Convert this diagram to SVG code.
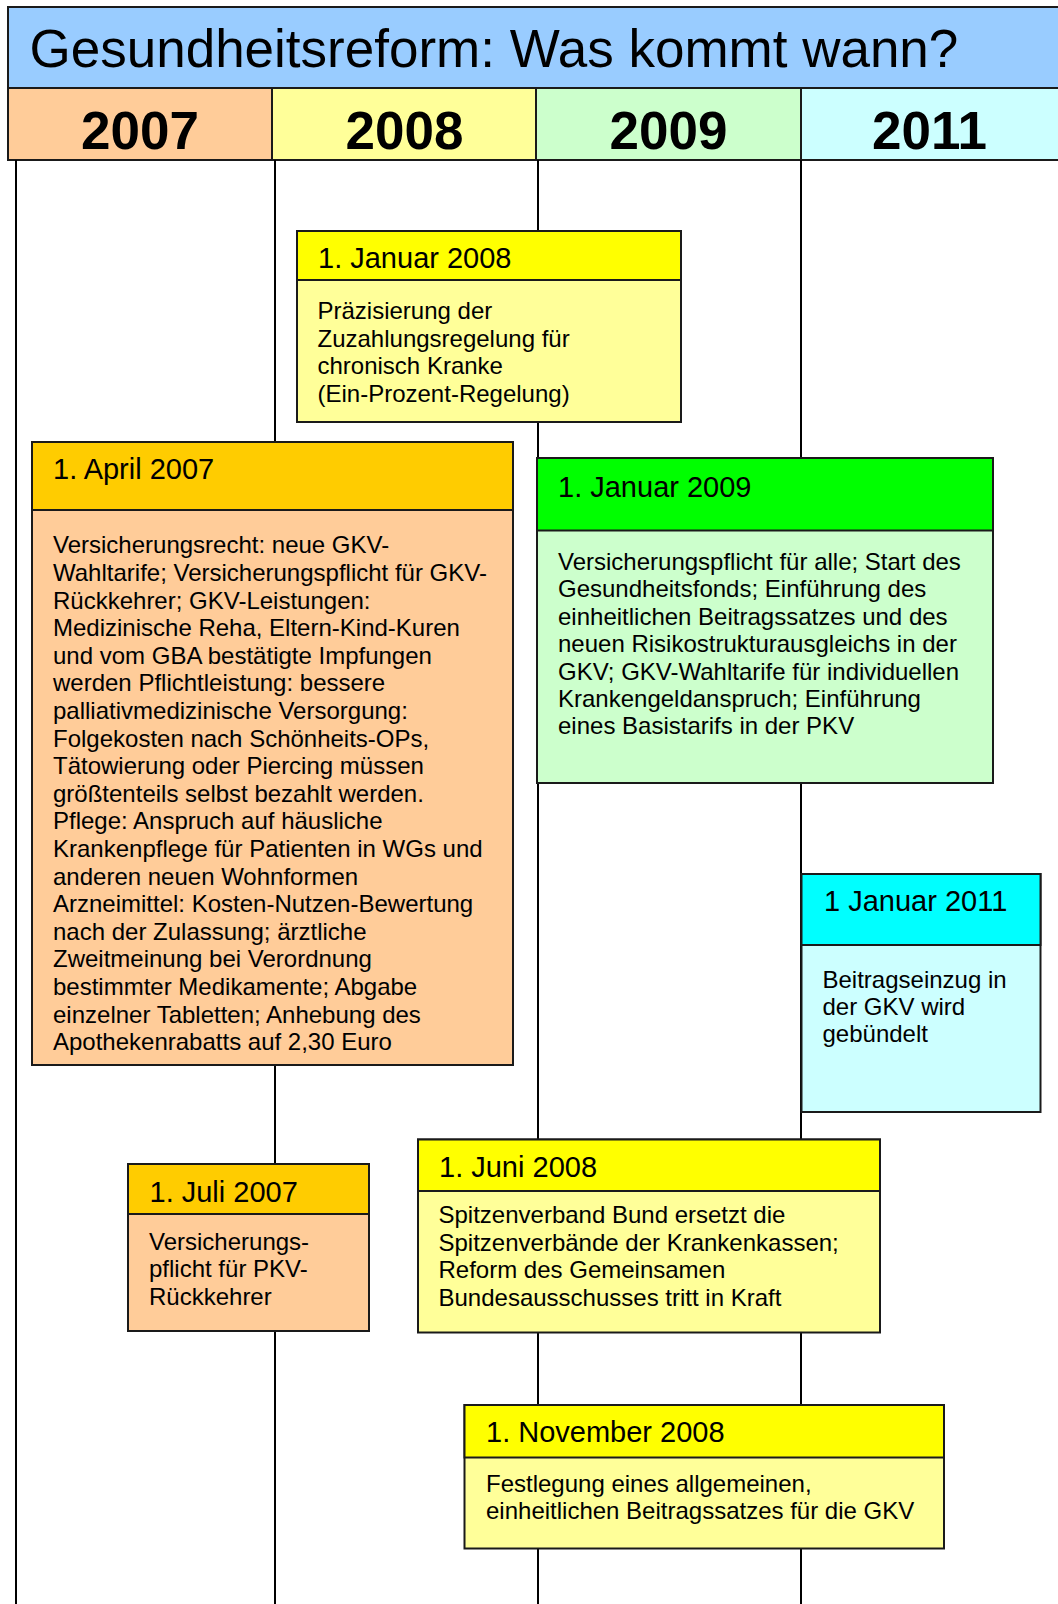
<svg xmlns="http://www.w3.org/2000/svg" width="1058" height="1604" viewBox="0 0 1058 1604">
<style>
  text { font-family: "Liberation Sans", Arial, sans-serif; fill: #000; }
  .title { font-size: 53px; }
  .year { font-size: 53px; font-weight: bold; text-anchor: middle; }
  .hd { font-size: 29px; }
  .bd { font-size: 24px; }
  .frame { stroke: #1a1a1a; stroke-width: 2; }
  .line { stroke: #000; stroke-width: 2; fill: none; }
</style>
<rect x="0" y="0" width="1058" height="1604" fill="#fff"/>
<g id="header">
  <rect class="frame" x="8" y="7" width="1060" height="81" fill="#99CCFF"/>
  <text class="title" x="29.5" y="66.5">Gesundheitsreform: Was kommt wann?</text>
</g>
<g id="years">
  <g id="y2007"><rect class="frame" x="8" y="88" width="264" height="72" fill="#FFCC99"/><text class="year" x="140" y="149">2007</text></g>
  <g id="y2008"><rect class="frame" x="272" y="88" width="264" height="72" fill="#FFFF99"/><text class="year" x="404.5" y="149">2008</text></g>
  <g id="y2009"><rect class="frame" x="536" y="88" width="265" height="72" fill="#CCFFCC"/><text class="year" x="668.5" y="149">2009</text></g>
  <g id="y2011"><rect class="frame" x="801" y="88" width="260" height="72" fill="#CCFFFF"/><text class="year" x="929.5" y="149">2011</text></g>
</g>
<g id="connectors">
  <line class="line" x1="16" y1="160" x2="16" y2="1604"/>
  <line class="line" x1="275" y1="160" x2="275" y2="1604"/>
  <line class="line" x1="538" y1="160" x2="538" y2="1604"/>
  <line class="line" x1="801" y1="160" x2="801" y2="1604"/>
</g>
<g id="jan2008">
  <rect class="frame" x="297" y="231" width="384" height="191" fill="#FFFF99"/>
  <rect class="frame" x="297" y="231" width="384" height="49" fill="#FFFF00"/>
  <text class="hd" x="318" y="268">1. Januar 2008</text>
  <text class="bd" x="317.5" y="319.3">Präzisierung der</text>
  <text class="bd" x="317.5" y="346.8">Zuzahlungsregelung für</text>
  <text class="bd" x="317.5" y="374.3">chronisch Kranke</text>
  <text class="bd" x="317.5" y="401.8">(Ein-Prozent-Regelung)</text>
</g>
<g id="apr2007">
  <rect class="frame" x="32" y="442" width="481" height="623" fill="#FFCC99"/>
  <rect class="frame" x="32" y="442" width="481" height="68" fill="#FFCC00"/>
  <text class="hd" x="53" y="479">1. April 2007</text>
  <text class="bd" x="53" y="553.3">Versicherungsrecht: neue GKV-</text>
  <text class="bd" x="53" y="580.9">Wahltarife; Versicherungspflicht für GKV-</text>
  <text class="bd" x="53" y="608.5">Rückkehrer; GKV-Leistungen:</text>
  <text class="bd" x="53" y="636.1">Medizinische Reha, Eltern-Kind-Kuren</text>
  <text class="bd" x="53" y="663.7">und vom GBA bestätigte Impfungen</text>
  <text class="bd" x="53" y="691.3">werden Pflichtleistung: bessere</text>
  <text class="bd" x="53" y="718.9">palliativmedizinische Versorgung:</text>
  <text class="bd" x="53" y="746.5">Folgekosten nach Schönheits-OPs,</text>
  <text class="bd" x="53" y="774.1">Tätowierung oder Piercing müssen</text>
  <text class="bd" x="53" y="801.7">größtenteils selbst bezahlt werden.</text>
  <text class="bd" x="53" y="829.3">Pflege: Anspruch auf häusliche</text>
  <text class="bd" x="53" y="856.9">Krankenpflege für Patienten in WGs und</text>
  <text class="bd" x="53" y="884.5">anderen neuen Wohnformen</text>
  <text class="bd" x="53" y="912.1">Arzneimittel: Kosten-Nutzen-Bewertung</text>
  <text class="bd" x="53" y="939.7">nach der Zulassung; ärztliche</text>
  <text class="bd" x="53" y="967.3">Zweitmeinung bei Verordnung</text>
  <text class="bd" x="53" y="994.9">bestimmter Medikamente; Abgabe</text>
  <text class="bd" x="53" y="1022.5">einzelner Tabletten; Anhebung des</text>
  <text class="bd" x="53" y="1050.1">Apothekenrabatts auf 2,30 Euro</text>
</g>
<g id="jan2009">
  <rect class="frame" x="537" y="458" width="456" height="325" fill="#CCFFCC"/>
  <rect class="frame" x="537" y="458" width="456" height="72.5" fill="#00FF00"/>
  <text class="hd" x="558" y="496.7">1. Januar 2009</text>
  <text class="bd" x="558" y="570">Versicherungspflicht für alle; Start des</text>
  <text class="bd" x="558" y="597.4">Gesundheitsfonds; Einführung des</text>
  <text class="bd" x="558" y="624.8">einheitlichen Beitragssatzes und des</text>
  <text class="bd" x="558" y="652.2">neuen Risikostrukturausgleichs in der</text>
  <text class="bd" x="558" y="679.6">GKV; GKV-Wahltarife für individuellen</text>
  <text class="bd" x="558" y="707">Krankengeldanspruch; Einführung</text>
  <text class="bd" x="558" y="734.4">eines Basistarifs in der PKV</text>
</g>
<g id="jan2011">
  <rect class="frame" x="801.5" y="874" width="239" height="238" fill="#CCFFFF"/>
  <rect class="frame" x="801.5" y="874" width="239" height="71" fill="#00FFFF"/>
  <text class="hd" x="824" y="910.7">1 Januar 2011</text>
  <text class="bd" x="822.5" y="988.3">Beitragseinzug in</text>
  <text class="bd" x="822.5" y="1015.3">der GKV wird</text>
  <text class="bd" x="822.5" y="1042.3">gebündelt</text>
</g>
<g id="jul2007">
  <rect class="frame" x="128" y="1164" width="241" height="167" fill="#FFCC99"/>
  <rect class="frame" x="128" y="1164" width="241" height="50" fill="#FFCC00"/>
  <text class="hd" x="149.5" y="1201.7">1. Juli 2007</text>
  <text class="bd" x="149" y="1249.5">Versicherungs-</text>
  <text class="bd" x="149" y="1277">pflicht für PKV-</text>
  <text class="bd" x="149" y="1304.5">Rückkehrer</text>
</g>
<g id="jun2008">
  <rect class="frame" x="418" y="1139.5" width="462" height="193" fill="#FFFF99"/>
  <rect class="frame" x="418" y="1139.5" width="462" height="51.5" fill="#FFFF00"/>
  <text class="hd" x="439" y="1176.7">1. Juni 2008</text>
  <text class="bd" x="438.5" y="1223">Spitzenverband Bund ersetzt die</text>
  <text class="bd" x="438.5" y="1250.5">Spitzenverbände der Krankenkassen;</text>
  <text class="bd" x="438.5" y="1278">Reform des Gemeinsamen</text>
  <text class="bd" x="438.5" y="1305.5">Bundesausschusses tritt in Kraft</text>
</g>
<g id="nov2008">
  <rect class="frame" x="464.5" y="1405" width="479.5" height="143.5" fill="#FFFF99"/>
  <rect class="frame" x="464.5" y="1405" width="479.5" height="52.5" fill="#FFFF00"/>
  <text class="hd" x="486" y="1442.3">1. November 2008</text>
  <text class="bd" x="486" y="1491.7">Festlegung eines allgemeinen,</text>
  <text class="bd" x="486" y="1518.7">einheitlichen Beitragssatzes für die GKV</text>
</g>
</svg>
